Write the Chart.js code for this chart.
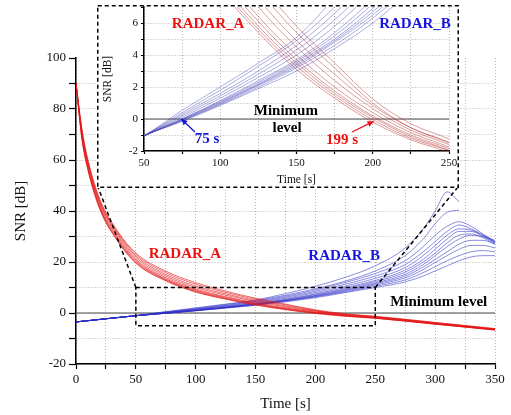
<!DOCTYPE html>
<html><head><meta charset="utf-8">
<script src="https://cdn.jsdelivr.net/npm/chart.js@4/dist/chart.umd.min.js"></script>
<style>
html,body{margin:0;padding:0;background:#fff;}
#wrap{position:relative;width:511px;height:415px;overflow:hidden;}
#main{position:absolute;left:0;top:0;width:511px;height:415px;}
#inset{position:absolute;left:97px;top:5px;width:362px;height:183px;}
</style></head><body>
<div id="wrap">
<canvas id="main" width="511" height="415"></canvas>
<canvas id="inset" width="362" height="183"></canvas>
</div>
<script>
// ---------- DATA ----------
const timeA = [0, 5, 10, 20, 35, 50, 75, 100, 125, 150, 175, 200, 225, 250, 300, 350];
const radarA1 = [90, 68.0, 56.0, 40.5, 28.0, 19.5, 12.6, 8.2, 5.4, 3.1, 1.3, -0.2, -1.3, -2.1, -4.4, -6.7];
const radarA2 = [90, 68.3, 56.3, 40.8, 28.3, 19.8, 12.8, 8.4, 5.6, 3.3, 1.45, -0.05, -1.2, -2.0, -4.35, -6.65];
const radarA3 = [90, 68.7, 56.7, 41.2, 28.7, 20.2, 13.1, 8.7, 5.8, 3.5, 1.6, 0.1, -1.1, -1.95, -4.3, -6.6];
const radarA4 = [90, 69.2, 57.2, 41.7, 29.2, 20.6, 13.4, 9.0, 6.1, 3.7, 1.75, 0.2, -1.0, -1.85, -4.2, -6.5];
const radarA5 = [90, 69.8, 57.8, 42.3, 29.8, 21.1, 13.9, 9.4, 6.4, 4.0, 2.0, 0.4, -0.85, -1.75, -4.1, -6.45];
const radarA6 = [90, 70.5, 58.5, 43.0, 30.5, 21.8, 14.5, 10.0, 7.0, 4.5, 2.4, 0.65, -0.7, -1.6, -4.0, -6.4];
const radarA7 = [90, 71.0, 59.0, 43.5, 31.0, 22.4, 15.1, 10.6, 7.5, 4.9, 2.8, 0.85, -0.55, -1.5, -3.9, -6.3];
const radarA8 = [90, 71.5, 59.5, 44.0, 31.5, 23.0, 15.8, 11.3, 8.1, 5.4, 3.2, 1.0, -0.55, -1.45, -3.8, -6.2];
const radarA9 = [90, 72.0, 60.0, 44.5, 32.0, 23.5, 16.4, 11.9, 8.6, 5.8, 3.5, 1.25, -0.3, -1.25, -3.7, -6.1];

const timeB = [0, 50, 75, 100, 125, 150, 175, 200, 225, 250, 275, 290, 300, 310, 320, 330, 340, 350];
const radarB1  = [-3.5, -1.05, 0.55, 2.0, 3.5, 5.1, 7.6, 10.5, 14.0, 18.5, 25.5, 33.0, 40.0, 47.5, 43.6, null, null, null];
const radarB2  = [-3.5, -1.05, 0.4, 1.8, 3.3, 4.9, 7.0, 9.5, 12.5, 16.5, 22.5, 29.0, 35.0, 39.5, 40.3, null, null, null];
const radarB3  = [-3.5, -1.05, 0.3, 1.6, 3.0, 4.6, 6.6, 9.0, 12.0, 15.5, 20.5, 26.0, 30.5, 34.0, 35.8, 34.0, 31.0, 28.0];
const radarB4  = [-3.5, -1.05, 0.2, 1.45, 2.8, 4.3, 6.2, 8.5, 11.3, 14.5, 19.0, 24.0, 28.0, 32.0, 34.5, 33.0, 30.5, 27.5];
const radarB5  = [-3.5, -1.05, 0.1, 1.3, 2.6, 4.0, 5.8, 8.0, 10.6, 13.6, 17.8, 22.5, 26.5, 30.5, 33.0, 32.5, 30.5, 28.0];
const radarB6  = [-3.5, -1.05, 0.0, 1.15, 2.4, 3.7, 5.4, 7.5, 10.0, 12.8, 16.8, 21.0, 25.0, 29.0, 32.0, 32.0, 30.0, 27.5];
const radarB7  = [-3.5, -1.05, 0.0, 1.1, 2.3, 3.6, 5.2, 7.2, 9.6, 12.3, 16.0, 20.0, 23.5, 27.5, 30.5, 31.0, 29.5, 27.0];
const radarB8  = [-3.5, -1.05, -0.05, 1.05, 2.2, 3.5, 5.0, 6.9, 9.2, 11.8, 15.2, 19.0, 22.5, 26.0, 29.0, 30.5, 30.0, 28.5];
const radarB9  = [-3.5, -1.05, -0.05, 1.0, 2.15, 3.4, 4.9, 6.7, 8.9, 11.4, 14.5, 18.0, 21.0, 24.0, 27.0, 28.5, 28.5, 27.0];
const radarB10 = [-3.5, -1.05, -0.1, 0.95, 2.1, 3.3, 4.8, 6.5, 8.6, 11.0, 13.8, 17.0, 19.8, 22.5, 25.0, 26.5, 26.5, 25.5];
const radarB11 = [-3.5, -1.05, -0.1, 0.9, 2.0, 3.2, 4.6, 6.3, 8.3, 10.5, 13.0, 15.8, 18.2, 20.5, 22.5, 24.0, 24.5, 24.0];
const radarB12 = [-3.5, -1.05, -0.15, 0.85, 1.9, 3.0, 4.4, 6.0, 8.0, 10.0, 12.2, 14.5, 16.5, 18.5, 20.5, 22.0, 22.5, 22.5];

const minimumLevel = 0;           // dB
const zoomTime = [50, 250];       // s, zoomed window
const zoomSNR = [-5, 10];         // dB, zoomed window
const mainXTicks = [0, 350, 25];  // min, max, step
const mainYTicks = [-20, 100, 10];
const insetXTicks = [50, 250, 25];
const insetYTicks = [-2, 7, 1];

// ---------- STYLE ----------
const serif = "'Liberation Serif','Times New Roman',serif";
const radarA = [radarA1, radarA2, radarA3, radarA4, radarA5, radarA6, radarA7, radarA8, radarA9];
const radarB = [radarB1, radarB2, radarB3, radarB4, radarB5, radarB6, radarB7, radarB8, radarB9, radarB10, radarB11, radarB12];
const pts = (times, vals) => times.map((t, i) => ({x: t, y: vals[i]}));

function buildDatasets(redCol, blueCol, lw, x0, x1) {
  const ds = [];
  radarA.forEach(v => ds.push({data: pts(timeA, v), borderColor: redCol, borderWidth: lw, pointRadius: 0, cubicInterpolationMode: 'monotone', fill: false}));
  radarB.forEach(v => ds.push({data: pts(timeB, v), borderColor: blueCol, borderWidth: lw, pointRadius: 0, cubicInterpolationMode: 'monotone', fill: false}));
  ds.push({data: [{x: x0, y: minimumLevel}, {x: x1, y: minimumLevel}], borderColor: '#4a4a4a', borderWidth: 1.2, pointRadius: 0});
  return ds;
}

function axis(rng, labelEvery, fontSize, tickLen, title, titleSize, titlePad, fixSize, horiz) {
  return {
    type: 'linear', min: rng[0], max: rng[1],
    ticks: {stepSize: rng[2], autoSkip: false, maxRotation: 0, padding: 3, color: '#111',
      font: {family: serif, size: fontSize},
      callback: v => (Math.abs(v % labelEvery) < 1e-9 ? String(v) : '')},
    grid: {color: c => (c.tick && c.tick.value === rng[1] && !horiz) ? 'rgba(0,0,0,0)' : '#b4b4b4',
      lineWidth: 1, tickColor: '#000', tickLength: tickLen, tickWidth: 1.2, tickBorderDash: []},
    border: {display: true, color: '#000', width: 1.5, dash: [1, 2]},
    title: {display: true, text: title, color: '#111', font: {family: serif, size: titleSize}, padding: titlePad},
    afterFit: s => { if (horiz) s.height = fixSize; else s.width = fixSize; s.paddingTop = 0; s.paddingBottom = 0; s.paddingLeft = 0; s.paddingRight = 0; }
  };
}

function drawText(ctx, text, x, y, color, size) {
  ctx.save();
  ctx.font = 'bold ' + size + 'px ' + serif;
  ctx.fillStyle = color;
  ctx.textAlign = 'center';
  ctx.textBaseline = 'middle';
  ctx.fillText(text, x, y);
  ctx.restore();
}
function drawArrow(ctx, x0, y0, x1, y1, color) {
  ctx.save();
  ctx.strokeStyle = color; ctx.fillStyle = color; ctx.lineWidth = 1.3;
  ctx.beginPath(); ctx.moveTo(x0, y0); ctx.lineTo(x1, y1); ctx.stroke();
  const a = Math.atan2(y1 - y0, x1 - x0), L = 6, W = 3;
  ctx.beginPath();
  ctx.moveTo(x1, y1);
  ctx.lineTo(x1 - L * Math.cos(a) + W * Math.sin(a), y1 - L * Math.sin(a) - W * Math.cos(a));
  ctx.lineTo(x1 - L * Math.cos(a) - W * Math.sin(a), y1 - L * Math.sin(a) + W * Math.cos(a));
  ctx.closePath(); ctx.fill();
  ctx.restore();
}

// ---------- MAIN CHART ----------
const insetEl = document.getElementById('inset');
const mainPlugin = {
  id: 'mainDeco',
  afterDatasetsDraw(chart) {
    const {ctx, scales: {x, y}} = chart;
    const X0 = x.getPixelForValue(zoomTime[0]), X1 = x.getPixelForValue(zoomTime[1]);
    const Y0 = y.getPixelForValue(zoomSNR[1]), Y1 = y.getPixelForValue(zoomSNR[0]);
    const fl = insetEl.offsetLeft, fr = insetEl.offsetLeft + insetEl.offsetWidth, fb = insetEl.offsetTop + insetEl.offsetHeight;
    ctx.save();
    ctx.strokeStyle = '#000'; ctx.lineWidth = 1.5; ctx.setLineDash([4, 3]);
    ctx.strokeRect(X0, Y0, X1 - X0, Y1 - Y0);
    ctx.beginPath(); ctx.moveTo(X0, Y0); ctx.lineTo(fl + 1, fb - 1); ctx.stroke();
    ctx.beginPath(); ctx.moveTo(X1, Y0); ctx.lineTo(fr - 1, fb - 1); ctx.stroke();
    ctx.restore();
    drawText(ctx, 'RADAR_A', x.getPixelForValue(91), y.getPixelForValue(23), '#ee1111', 15);
    drawText(ctx, 'RADAR_B', x.getPixelForValue(224), y.getPixelForValue(22.4), '#1515dd', 15);
    drawText(ctx, 'Minimum level', x.getPixelForValue(303), y.getPixelForValue(4.3), '#000', 15);
  }
};

new Chart(document.getElementById('main'), {
  type: 'line',
  data: {datasets: buildDatasets('rgba(228,20,20,0.62)', 'rgba(45,45,200,0.55)', 1, mainXTicks[0], mainXTicks[1])},
  options: {
    responsive: false, animation: false, parsing: true,
    layout: {padding: {left: 0, right: 16, top: 58, bottom: 0}},
    plugins: {legend: {display: false}, tooltip: {enabled: false}},
    scales: {
      x: axis(mainXTicks, 50, 13, 5, 'Time [s]', 15, {top: 0, bottom: 2}, 51, true),
      y: axis(mainYTicks, 20, 13, 7, 'SNR [dB]', 15, {top: 12, bottom: 0}, 76, false)
    }
  },
  plugins: [mainPlugin]
});

// ---------- INSET CHART ----------
const insetPlugin = {
  id: 'insetDeco',
  beforeDraw(chart) {
    const {ctx, width, height} = chart;
    ctx.save(); ctx.fillStyle = '#fff'; ctx.fillRect(0, 0, width, height); ctx.restore();
  },
  afterDraw(chart) {
    const {ctx, width, height, scales: {x, y}} = chart;
    const px = v => x.getPixelForValue(v), py = v => y.getPixelForValue(v);
    drawText(ctx, 'RADAR_A', px(92), py(5.94), '#ee1111', 15);
    drawText(ctx, 'RADAR_B', px(227.7), py(5.94), '#1515dd', 15);
    drawText(ctx, 'Minimum', px(143), py(0.5), '#000', 15);
    drawText(ctx, 'level', px(143.8), py(-0.56), '#000', 15);
    drawText(ctx, '75 s', px(91.3), py(-1.25), '#1515dd', 15);
    drawText(ctx, '199 s', px(179.8), py(-1.31), '#ee1111', 15);
    drawArrow(ctx, px(83.4), py(-0.81), px(74.5), py(0), '#1515dd');
    drawArrow(ctx, px(186.4), py(-0.81), px(200.5), py(-0.15), '#ee1111');
    ctx.save();
    ctx.strokeStyle = '#000'; ctx.lineWidth = 1.5; ctx.setLineDash([4, 3]);
    ctx.strokeRect(0.75, 0.75, width - 1.5, height - 1.5);
    ctx.restore();
  }
};

new Chart(insetEl, {
  type: 'line',
  data: {datasets: buildDatasets('rgba(175,40,40,0.5)', 'rgba(70,70,185,0.5)', 0.9, insetXTicks[0], insetXTicks[1])},
  options: {
    responsive: false, animation: false,
    layout: {padding: {left: 0, right: 10, top: 2, bottom: 0}},
    plugins: {legend: {display: false}, tooltip: {enabled: false}},
    scales: {
      x: axis(insetXTicks, 50, 11, 3, 'Time [s]', 11.5, {top: 0, bottom: 1}, 37, true),
      y: axis(insetYTicks, 2, 11, 3, 'SNR [dB]', 11.5, {top: 4, bottom: 0}, 47, false)
    }
  },
  plugins: [insetPlugin]
});
</script>
</body></html>
